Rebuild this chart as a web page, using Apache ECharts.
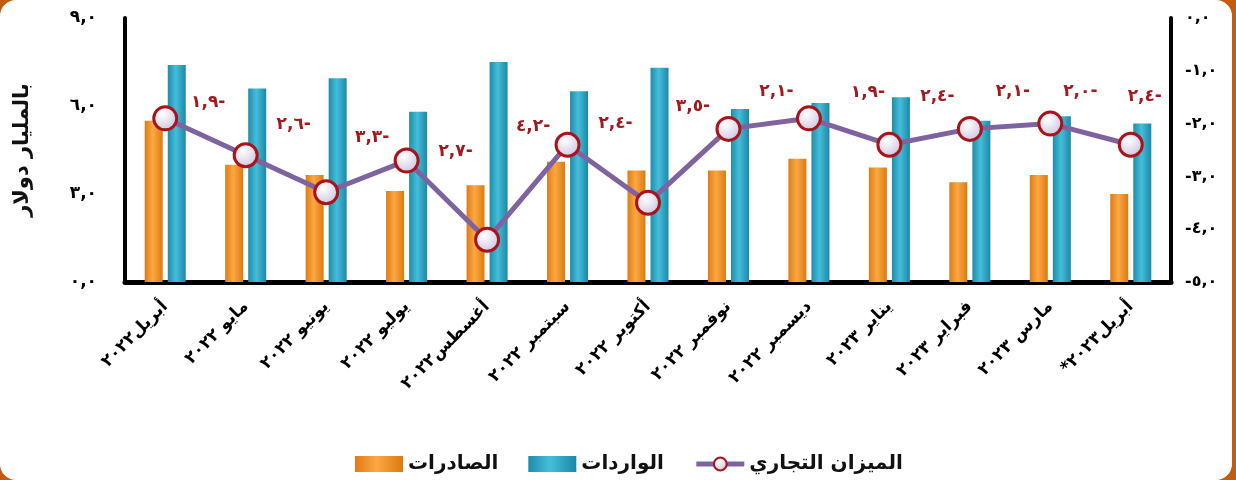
<!DOCTYPE html>
<html>
<head>
<meta charset="utf-8">
<script src="https://cdn.jsdelivr.net/npm/echarts@6/dist/echarts.min.js"></script>
<style>
  html, body { margin: 0; padding: 0; background: #C55A11; width: 1236px; height: 480px; overflow: hidden; }
  #frame { position: absolute; left: 0; top: 0; width: 1232px; height: 480px; background: #ffffff; border-radius: 16px; overflow: hidden; }
  #chart { width: 1232px; height: 480px; }
</style>
</head>
<body>
<div id="frame"><div id="chart"></div></div>
<script>
// ---- data ----
const categories = [
  'أبريل٢٠٢٢', 'مايو ٢٠٢٢', 'يونيو ٢٠٢٢', 'يوليو ٢٠٢٢', 'أغسطس٢٠٢٢', 'سبتمبر ٢٠٢٢',
  'أكتوبر ٢٠٢٢', 'نوفمبر ٢٠٢٢', 'ديسمبر ٢٠٢٢', 'يناير ٢٠٢٣', 'فبراير ٢٠٢٣', 'مارس ٢٠٢٣', 'أبريل٢٠٢٣*'
];
const exportsVals = [5.5, 4.0, 3.65, 3.1, 3.3, 4.1, 3.8, 3.8, 4.2, 3.9, 3.4, 3.65, 3.0];
const importsVals = [7.4, 6.6, 6.95, 5.8, 7.5, 6.5, 7.3, 5.9, 6.1, 6.3, 5.5, 5.65, 5.4];
const balanceVals = [-1.9, -2.6, -3.3, -2.7, -4.2, -2.4, -3.5, -2.1, -1.9, -2.4, -2.1, -2.0, -2.4];
const leftTicks = { min: 0, max: 9, interval: 3 };
const rightTicks = { min: -5, max: 0, interval: 1 };
const seriesNames = { exports: 'الصادرات', imports: 'الواردات', balance: 'الميزان التجاري' };
const axisTitle = 'بالمليار دولار';

// ---- style (label placement offsets, px) ----
const labelOffsets = [[43,-16],[48,-31],[46,-55],[49,-9],[46,-113],[48,-21],[45,-96],[48,-37],[59,-26],[48,-48],[43,-37],[30,-32],[14,-48]];

const AR = '٠١٢٣٤٥٦٧٨٩';
function arNum(v) {
  const s = Math.abs(v).toFixed(1).replace('.', ',');
  return s.replace(/[0-9]/g, d => AR[+d]);
}
function axisFmt(v) { return (v < 0 ? '-' : '') + arNum(v); }
function dataFmt(v) { return arNum(v) + (v < 0 ? '-' : ''); }

const FONT = "'DejaVu Sans', 'Noto Sans', sans-serif";
const chart = echarts.init(document.getElementById('chart'), null, { renderer: 'canvas' });

const orangeGrad = new echarts.graphic.LinearGradient(0, 0, 1, 0, [
  { offset: 0, color: '#E07C12' }, { offset: 0.45, color: '#FCA844' }, { offset: 1, color: '#DB7A12' }
]);
const blueGrad = new echarts.graphic.LinearGradient(0, 0, 1, 0, [
  { offset: 0, color: '#1D8DAB' }, { offset: 0.45, color: '#45BEDA' }, { offset: 1, color: '#1B88A6' }
]);
const markerGrad = new echarts.graphic.RadialGradient(0.4, 0.35, 0.7, [
  { offset: 0, color: '#FFFFFF' }, { offset: 1, color: '#C9C0DC' }
]);

const option = {
  animation: false,
  backgroundColor: 'transparent',
  textStyle: { fontFamily: FONT },
  grid: { left: 125, right: 61, top: 18, bottom: 198, containLabel: false },
  legend: {
    top: 449, left: 350,
    itemWidth: 48, itemHeight: 16, itemGap: 30,
    data: [
      { name: seriesNames.exports, icon: 'rect' },
      { name: seriesNames.imports, icon: 'rect' },
      { name: seriesNames.balance, lineStyle: { width: 5 } }
    ],
    textStyle: { fontFamily: FONT, fontWeight: 'bold', fontSize: 20, color: '#111' }
  },
  xAxis: {
    type: 'category',
    data: categories,
    axisLine: { lineStyle: { color: '#000', width: 5 } },
    axisTick: { show: false },
    axisLabel: {
      interval: 0, rotate: 45, margin: 22,
      fontFamily: FONT, fontWeight: 'bold', fontSize: 17, color: '#000',
      formatter: v => '\u200F' + v + '\u200F'
    }
  },
  yAxis: [
    {
      type: 'value', min: leftTicks.min, max: leftTicks.max, interval: leftTicks.interval,
      position: 'left',
      name: axisTitle, nameLocation: 'middle', nameRotate: 90, nameGap: 92,
      nameTextStyle: { fontFamily: FONT, fontWeight: 'bold', fontSize: 21, color: '#111' },
      axisLine: { show: true, lineStyle: { color: '#000', width: 4 } },
      axisTick: { show: false },
      splitLine: { show: false },
      axisLabel: { margin: 28, fontFamily: FONT, fontWeight: 'bold', fontSize: 17, color: '#000', formatter: axisFmt }
    },
    {
      type: 'value', min: rightTicks.min, max: rightTicks.max, interval: rightTicks.interval,
      position: 'right',
      axisLine: { show: true, lineStyle: { color: '#000', width: 4 } },
      axisTick: { show: false },
      splitLine: { show: false },
      axisLabel: { margin: 14, fontFamily: FONT, fontWeight: 'bold', fontSize: 16, color: '#000', formatter: axisFmt }
    }
  ],
  series: [
    {
      name: seriesNames.exports, type: 'bar', yAxisIndex: 0,
      data: exportsVals, barWidth: 18, barGap: '28%',
      itemStyle: { color: orangeGrad }
    },
    {
      name: seriesNames.imports, type: 'bar', yAxisIndex: 0,
      data: importsVals, barWidth: 18,
      itemStyle: { color: blueGrad }
    },
    {
      name: seriesNames.balance, type: 'line', yAxisIndex: 1, z: 5,
      data: balanceVals.map((v, i) => ({
        value: v,
        label: { offset: labelOffsets[i] }
      })),
      symbol: 'circle', symbolSize: 23,
      lineStyle: { color: '#7F63A1', width: 5 },
      itemStyle: { color: markerGrad, borderColor: '#A8141C', borderWidth: 3 },
      label: {
        show: true, position: 'inside',
        fontFamily: FONT, fontWeight: 'bold', fontSize: 17, color: '#A3191F',
        formatter: p => dataFmt(p.value)
      }
    }
  ]
};
chart.setOption(option);
</script>
</body>
</html>
